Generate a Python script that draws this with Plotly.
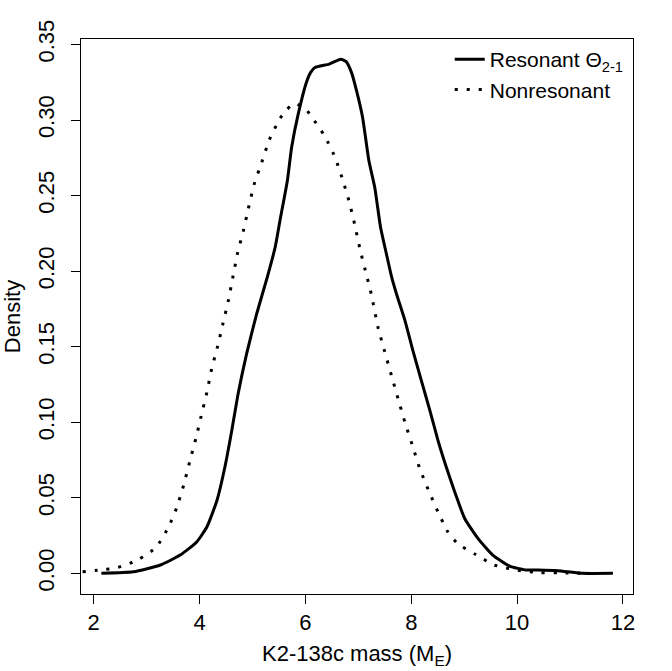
from plotly.graph_objects import Scatter, Figure

# densite de masse de K2-138c
res_x = [2.145, 2.75, 3.26, 3.635, 3.95, 4.14, 4.33, 4.48, 4.61, 4.73, 4.89, 5.08,
	5.28, 5.43, 5.52, 5.66, 5.74, 5.865, 6.02, 6.10, 6.18, 6.45, 6.667, 6.77, 6.87,
	6.966, 7.08, 7.20, 7.31, 7.42, 7.53, 7.63, 7.72, 7.88, 8.03, 8.19, 8.35, 8.505,
	8.66, 8.82, 9.01, 9.26, 9.54, 9.86, 10.17, 10.40, 10.77, 11.21, 11.81]
res_y = [0.0, 0.001, 0.0055, 0.0121, 0.0209, 0.0308, 0.0484, 0.0705, 0.0947, 0.119,
	0.1454, 0.1718, 0.196, 0.216, 0.2335, 0.260, 0.282, 0.304, 0.325, 0.3315, 0.3348,
	0.337, 0.3402, 0.3386, 0.3315, 0.3194, 0.3018, 0.273, 0.2555, 0.229, 0.2115, 0.196,
	0.185, 0.1674, 0.1476, 0.1277, 0.108, 0.088, 0.0705, 0.054, 0.0363, 0.0231, 0.0121,
	0.0048, 0.0022, 0.0022, 0.0017, 0.0, 0.0]

non_x = [1.79, 2.22, 2.44, 2.83, 3.18, 3.41, 3.57, 3.70, 3.81, 3.93, 4.03, 4.14, 4.23,
	4.34, 4.44, 4.545, 4.63, 4.715, 4.83, 4.92, 5.03, 5.175, 5.32, 5.52, 5.65, 5.80,
	6.01, 6.14, 6.37, 6.56, 6.70, 6.83, 6.93, 7.03, 7.15, 7.25, 7.37, 7.50, 7.625, 7.75,
	7.88, 8.02, 8.16, 8.33, 8.505, 8.69, 8.88, 9.20, 9.57, 9.98, 10.43, 10.76, 11.2]
non_y = [0.001, 0.0026, 0.0037, 0.0088, 0.0172, 0.0304, 0.0436, 0.0584, 0.0734, 0.0892,
	0.104, 0.120, 0.1355, 0.150, 0.165, 0.1806, 0.196, 0.2115, 0.227, 0.241, 0.2573,
	0.272, 0.287, 0.301, 0.307, 0.311, 0.307, 0.301, 0.289, 0.2753, 0.261, 0.2456, 0.231,
	0.2148, 0.198, 0.184, 0.163, 0.1465, 0.131, 0.1157, 0.100, 0.0848, 0.0694, 0.0546,
	0.0407, 0.0275, 0.0195, 0.0128, 0.0055, 0.0022, 0.0005, 0.0004, 0.0]

x_ticks = [2, 4, 6, 8, 10, 12]
y_ticks = [0.00, 0.05, 0.10, 0.15, 0.20, 0.25, 0.30, 0.35]
y_labels = ["0.00", "0.05", "0.10", "0.15", "0.20", "0.25", "0.30", "0.35"]

FONT = "Liberation Sans, Arial, sans-serif"


def axe(**kw):
	d = {
		'showline': True, 'linecolor': "black", 'linewidth': 1, 'mirror': True,
		'ticks': "outside", 'ticklen': 9, 'tickcolor': "black", 'tickwidth': 1,
		'showgrid': False, 'zeroline': False, 'automargin': False,
		'tickfont': {'size': 22, 'color': "black"},
	}
	d.update(kw)
	return d


fig = Figure({
	'layout': {
		'width': 672, 'height': 671,
		'paper_bgcolor': "white", 'plot_bgcolor': "white",
		'font': {'family': FONT, 'color': "black", 'size': 22},
		'margin': {'l': 81, 'r': 39, 't': 39, 'b': 77},
		'xaxis': axe(range=[1.76, 12.19], tickvals=x_ticks,
			title={'text': "K2-138c mass (M<sub>E</sub>)", 'font': {'size': 22}, 'standoff': 11}),
		'yaxis': axe(range=[-0.01368, 0.3536], tickvals=y_ticks, ticktext=y_labels,
			tickangle=-90, ticklabelstandoff=8,
			title={'text': "Density", 'font': {'size': 22}, 'standoff': 26}),
		'legend': {'x': 0.668, 'y': 1.0, 'xanchor': "left", 'yanchor': "top",
			'bgcolor': "rgba(0,0,0,0)", 'font': {'size': 21}, 'tracegroupgap': 0},
	}
})

fig.add_trace(Scatter(x=res_x, y=res_y, mode="lines", name="Resonant Θ<sub>2-1</sub>",
	line={'color': "black", 'width': 3, 'shape': "spline", 'smoothing': 0.5}))
fig.add_trace(Scatter(x=non_x, y=non_y, mode="lines", name="Nonresonant",
	line={'color': "black", 'width': 3, 'dash': "3px,9px", 'shape': "spline", 'smoothing': 0.5}))

# pas de marge autour du graphique dans la page, pas de barre d'outils
fig.write_html("out.html", config={'displayModeBar': False},
	post_script="document.body.style.margin = '0';")
